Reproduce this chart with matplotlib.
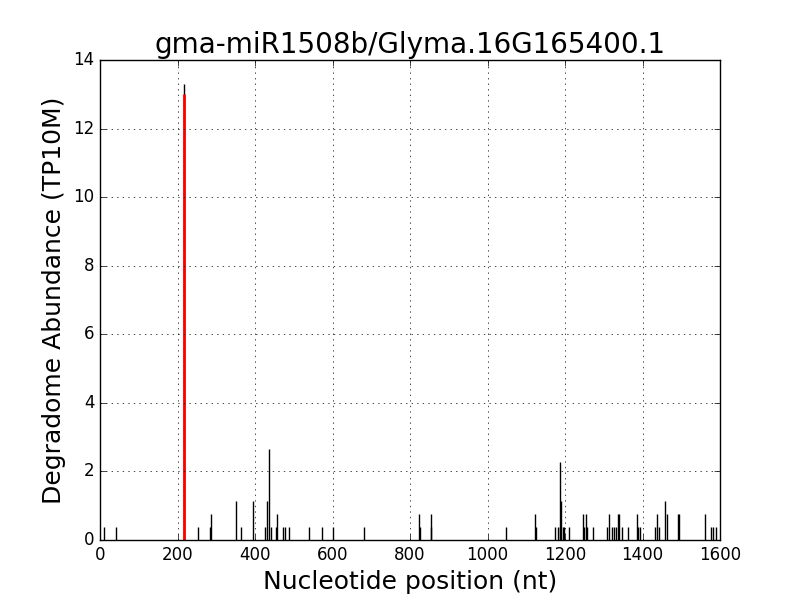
import matplotlib
matplotlib.use("Agg")
import matplotlib.pyplot as plt

# degradome reads: nucleotide position and abundance (TP10M)
positions = [11, 40, 218, 254, 285, 287, 352, 365, 396, 426, 431, 436, 440,
             453, 458, 471, 478, 487, 540, 574, 602, 682, 824, 826, 853, 855,
             1049, 1122, 1124, 1174, 1181, 1186, 1188, 1190, 1194, 1197, 1210,
             1247, 1250, 1253, 1257, 1271, 1309, 1313, 1320, 1327, 1331, 1336,
             1340, 1346, 1363, 1385, 1389, 1394, 1432, 1438, 1443, 1458, 1463,
             1492, 1494, 1561, 1576, 1583, 1590]
abundance = [0.38, 0.38, 13.3, 0.38, 0.38, 0.76, 1.14, 0.38, 1.14, 0.38, 1.14, 2.66, 0.38,
             0.38, 0.76, 0.38, 0.38, 0.38, 0.38, 0.38, 0.38, 0.38, 0.76, 0.38, 0.76, 0.38,
             0.38, 0.76, 0.38, 0.38, 0.38, 2.28, 0.38, 1.14, 0.38, 0.38, 0.38,
             0.76, 0.38, 0.76, 0.38, 0.38, 0.38, 0.76, 0.38, 0.38, 0.38, 0.76,
             0.76, 0.38, 0.38, 0.76, 0.38, 0.38, 0.38, 0.76, 0.38, 1.14, 0.76,
             0.76, 0.76, 0.76, 0.38, 0.38, 0.38]

# predicted cleavage site
cleave_pos = 218
cleave_val = 13.0

plt.style.use("classic")
fig = plt.figure(figsize=(8, 6), dpi=100, facecolor="white")
ax = fig.add_subplot(111)

ax.vlines(positions, 0, abundance, colors="k", linewidth=1)
ax.vlines(cleave_pos, 0, cleave_val, colors="r", linewidth=2)

ax.set_xlim(0, 1600)
ax.set_ylim(0, 14)
ax.grid(True)
ax.set_title("gma-miR1508b/Glyma.16G165400.1", fontsize=20)
ax.set_xlabel("Nucleotide position (nt)", fontsize=18)
ax.set_ylabel("Degradome Abundance (TP10M)", fontsize=18)

fig.savefig("out.png", dpi=100, facecolor="white")
